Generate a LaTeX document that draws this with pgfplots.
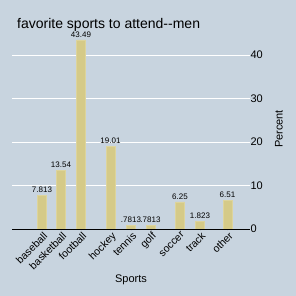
\documentclass[border=0pt]{standalone}
\usepackage{pgfplots}
\pgfplotsset{compat=1.18}
\usepackage{fontspec}
\setmainfont{Liberation Sans}
\definecolor{bg}{HTML}{C8D4DF}
\definecolor{barfill}{HTML}{D5CA88}
\definecolor{baredge}{HTML}{DDD49C}
\begin{document}
\begin{tikzpicture}[x=1pt,y=1pt]
\fill[bg] (0,0) rectangle (296,296);
\useasboundingbox (0,0) rectangle (296,296);
\node[anchor=base west,font=\fontsize{14}{16}\selectfont, inner sep=0pt] at (17,267) {favorite sports to attend{-}{-}men};
\begin{axis}[
  at={(12pt,67pt)}, anchor=south west,
  width=238pt, height=200.1pt, scale only axis,
  xmin=12, xmax=250, ymin=0, ymax=46,
  axis line style={draw=none},
  axis y line*=right,
  ytick={0,10,20,30,40},
  ymajorgrids, grid style={white, line width=0.8pt},
  major tick length=3pt,
  ytick style={draw=none},
  yticklabel style={font=\fontsize{11}{13}\selectfont, xshift=-3pt},
  /pgf/number format/assume math mode=true,
  xtick={42,61,81,110.5,131,150.5,180,200,227.5},
  xticklabels={baseball,basketball,football,hockey,tennis,golf,soccer,track,other},
  xticklabel style={font=\fontsize{10.5}{12}\selectfont, rotate=45, anchor=north east, inner sep=1pt, yshift=-1pt},
  xtick style={black, yshift=-1.5pt},
  xtick pos=bottom,
  ylabel={Percent}, ylabel style={font=\fontsize{11}{13}\selectfont, at={(axis description cs:1.09,0.5)}},
  xlabel={Sports}, xlabel style={font=\fontsize{11}{13}\selectfont, at={(axis description cs:0.5,-0.21)}},
  clip=false,
  nodes near coords,
  nodes near coords style={font=\fontsize{8}{9}\selectfont, black, yshift=-1pt},
  point meta=explicit symbolic,
]
\addplot[ybar, bar width=9, fill=barfill, draw=baredge, line width=0.6pt]
 coordinates {(42,7.813)[7.813] (61,13.54)[13.54] (81,43.49)[43.49] (110.5,19.01)[19.01] (131,0.7813)[.7813] (150.5,0.7813)[.7813] (180,6.25)[6.25] (200,1.823)[1.823] (227.5,6.51)[6.51]};
\draw[black, line width=0.9pt] (axis cs:12,0) -- (axis cs:250,0);
\end{axis}
\end{tikzpicture}
\end{document}
